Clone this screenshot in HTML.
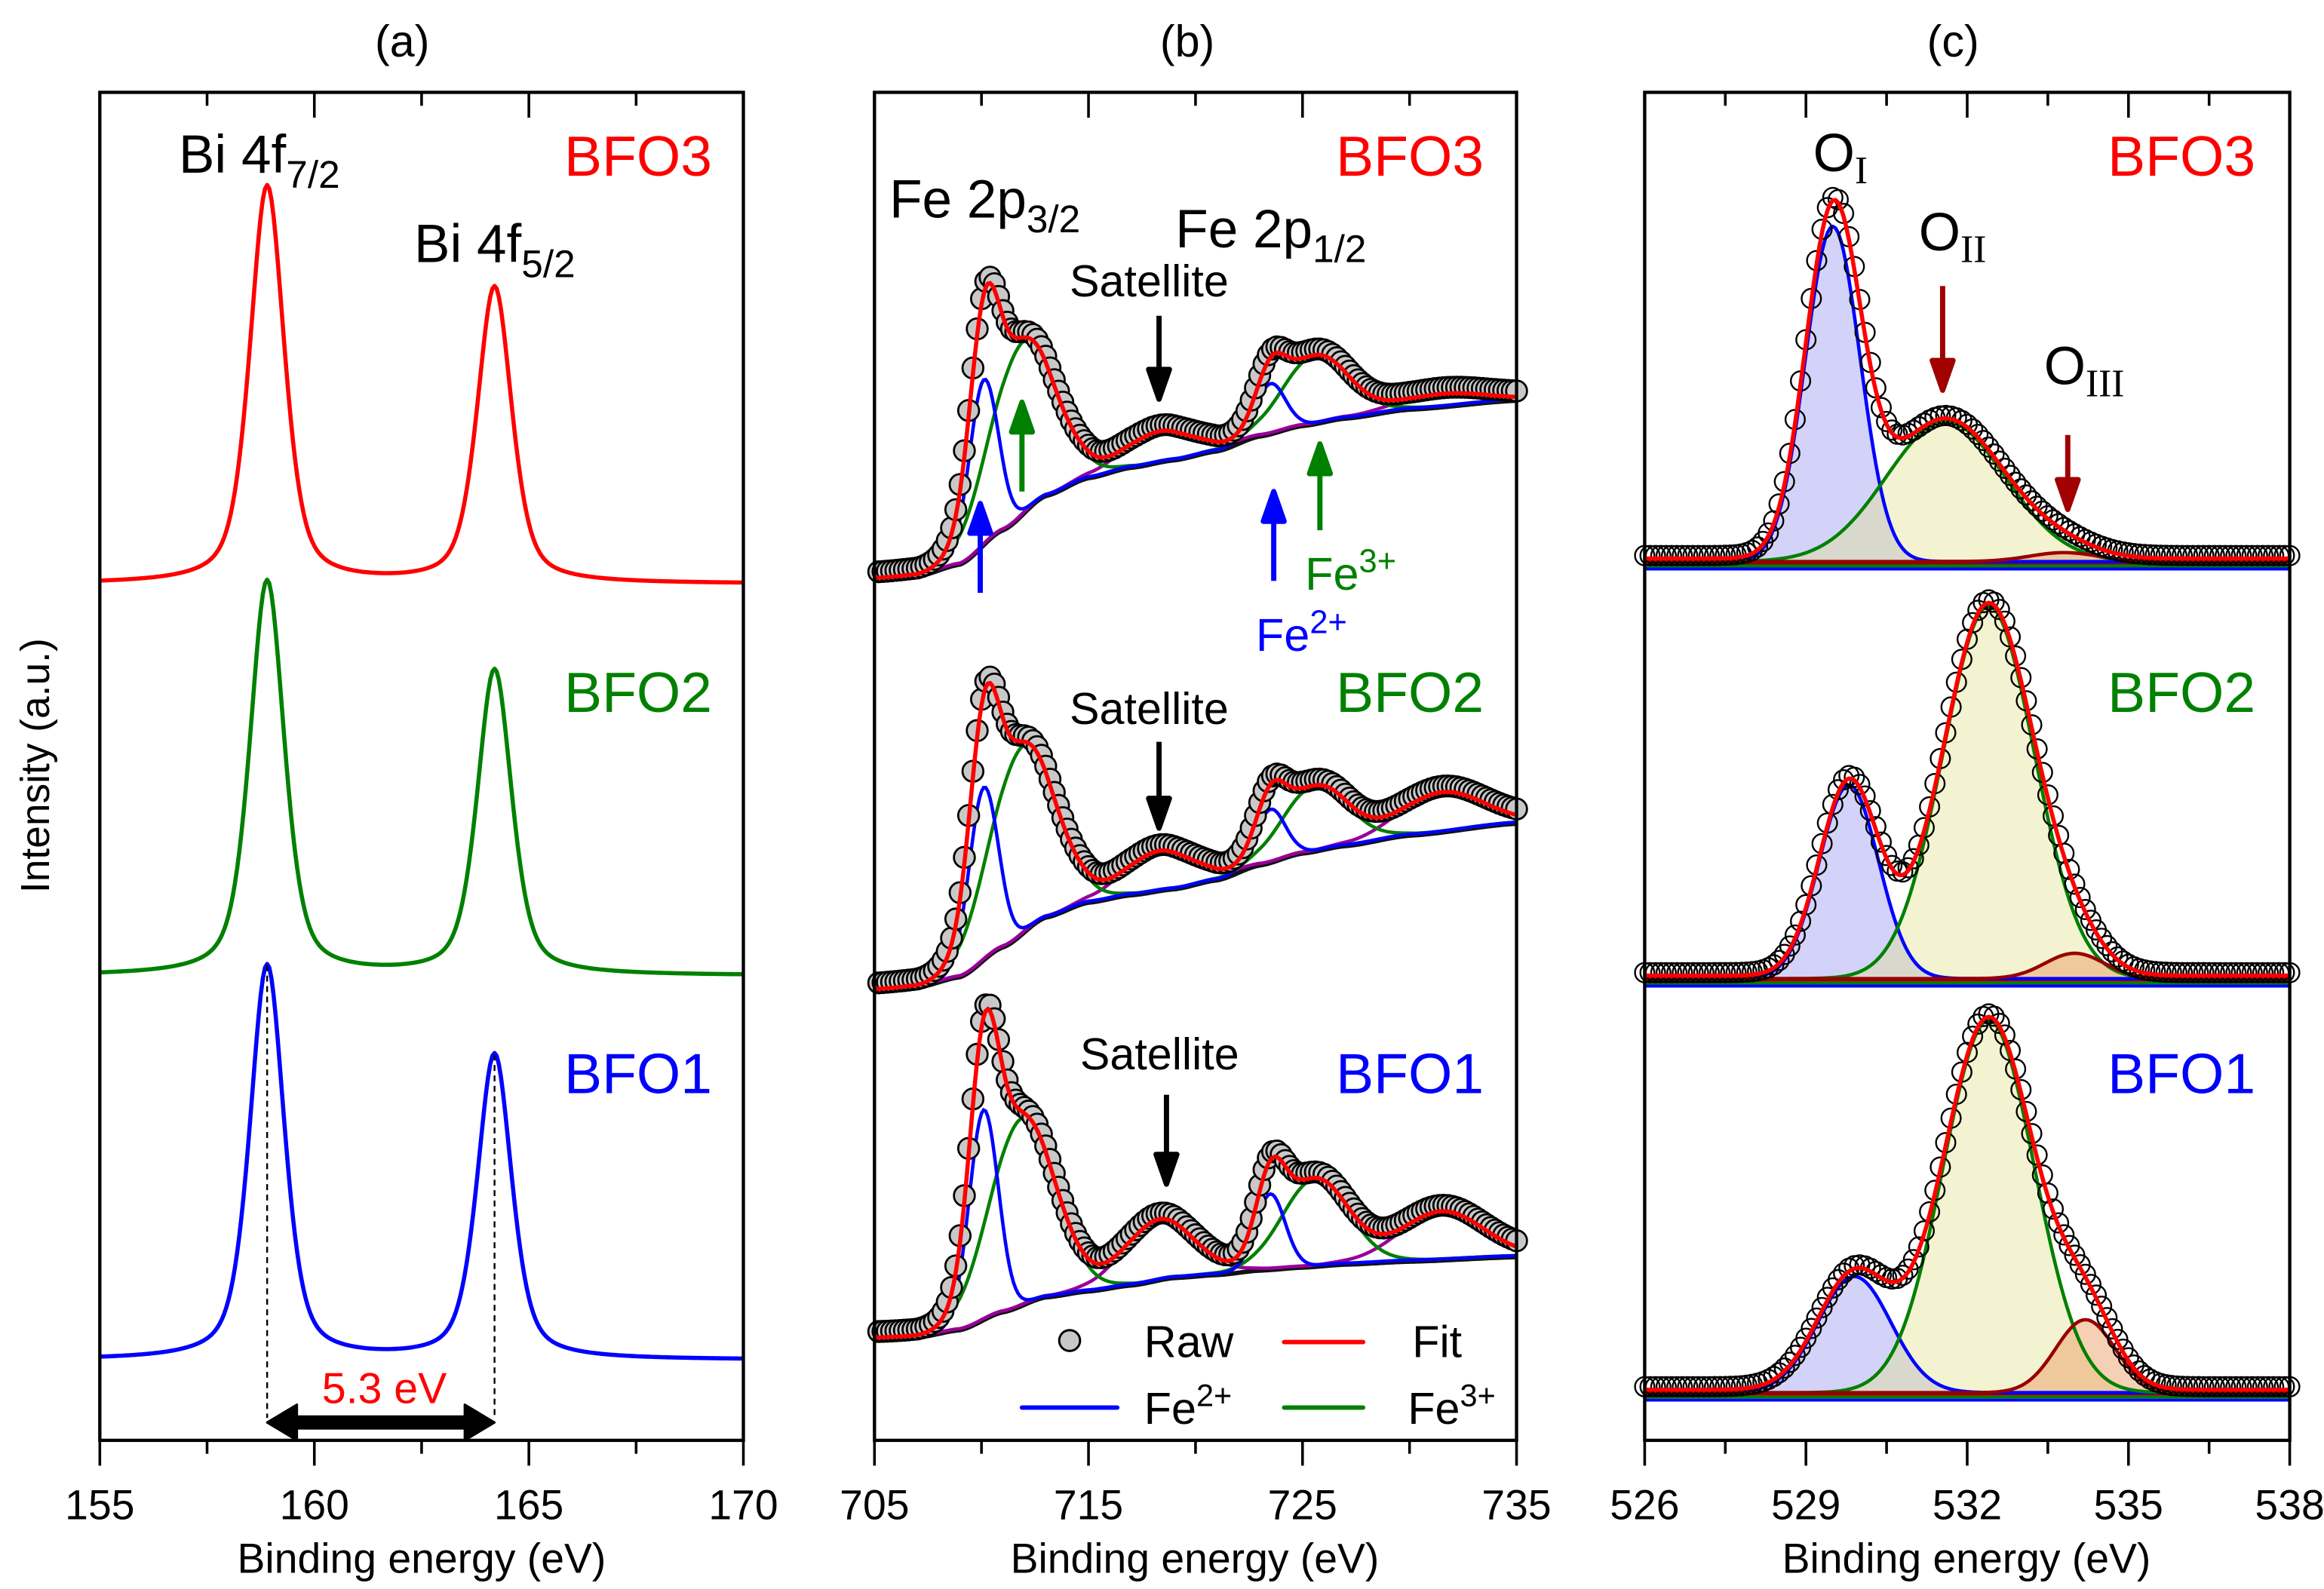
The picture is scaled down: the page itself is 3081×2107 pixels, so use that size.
<!DOCTYPE html>
<html><head><meta charset="utf-8">
<style>
html,body{margin:0;padding:0;background:#fff;}
svg{display:block;font-family:"Liberation Sans",Arial,sans-serif;}
.sr{font-family:"Liberation Serif",serif;}
</style></head>
<body>
<svg id="fig" xmlns="http://www.w3.org/2000/svg" width="3081" height="2107" viewBox="0 0 1560 1066.8" preserveAspectRatio="none">
<g id="marks"></g>
<g id="frames"></g>
<text x="270" y="38" font-size="30" text-anchor="middle">(a)</text>
<text x="797" y="38" font-size="30" text-anchor="middle">(b)</text>
<text x="1311" y="38" font-size="30" text-anchor="middle">(c)</text>
<text transform="translate(33,514) rotate(-90)" font-size="27" text-anchor="middle">Intensity (a.u.)</text>
<text x="283" y="1056" font-size="28" text-anchor="middle">Binding energy (eV)</text>
<text x="802" y="1056" font-size="28" text-anchor="middle">Binding energy (eV)</text>
<text x="1320" y="1056" font-size="28" text-anchor="middle">Binding energy (eV)</text>
<text x="120" y="116" font-size="36">Bi 4f<tspan font-size="26" dy="10">7/2</tspan></text>
<text x="278" y="176" font-size="36">Bi 4f<tspan font-size="26" dy="10">5/2</tspan></text>
<text x="478" y="118" font-size="38" fill="#ff0000" text-anchor="end">BFO3</text>
<text x="478" y="478" font-size="38" fill="#008000" text-anchor="end">BFO2</text>
<text x="478" y="734" font-size="38" fill="#0000ff" text-anchor="end">BFO1</text>
<text x="258" y="942" font-size="29" fill="#ff0000" text-anchor="middle">5.3 eV</text>
<text x="597" y="146" font-size="36">Fe 2p<tspan font-size="26" dy="10">3/2</tspan></text>
<text x="789" y="166" font-size="36">Fe 2p<tspan font-size="26" dy="10">1/2</tspan></text>
<text x="996" y="118" font-size="38" fill="#ff0000" text-anchor="end">BFO3</text>
<text x="996" y="478" font-size="38" fill="#008000" text-anchor="end">BFO2</text>
<text x="996" y="734" font-size="38" fill="#0000ff" text-anchor="end">BFO1</text>
<text x="718" y="199" font-size="30">Satellite</text>
<text x="718" y="486" font-size="30">Satellite</text>
<text x="725" y="718" font-size="30">Satellite</text>
<text x="876" y="396" font-size="31" fill="#008000">Fe<tspan font-size="22" dy="-12">3+</tspan></text>
<text x="843" y="437" font-size="31" fill="#0000ff">Fe<tspan font-size="22" dy="-12">2+</tspan></text>
<g>
<circle cx="718" cy="900" r="7" fill="#c8c8c8" stroke="#000" stroke-width="1.5"/>
<text x="768" y="911" font-size="30">Raw</text>
<line x1="862" y1="901" x2="915" y2="901" stroke="#ff0000" stroke-width="3" stroke-linecap="round"/>
<text x="948" y="911" font-size="30">Fit</text>
<line x1="686" y1="945" x2="750" y2="945" stroke="#0000ff" stroke-width="3" stroke-linecap="round"/>
<text x="768" y="956" font-size="30">Fe<tspan font-size="21" dy="-12">2+</tspan></text>
<line x1="862" y1="945" x2="915" y2="945" stroke="#008000" stroke-width="3" stroke-linecap="round"/>
<text x="945" y="956" font-size="30">Fe<tspan font-size="21" dy="-12">3+</tspan></text>
</g>
<text x="1217" y="115" font-size="36">O<tspan class="sr" font-size="26" dy="8">I</tspan></text>
<text x="1288" y="168" font-size="36">O<tspan class="sr" font-size="26" dy="8">II</tspan></text>
<text x="1372" y="258" font-size="36">O<tspan class="sr" font-size="26" dy="8">III</tspan></text>
<text x="1514" y="118" font-size="38" fill="#ff0000" text-anchor="end">BFO3</text>
<text x="1514" y="478" font-size="38" fill="#008000" text-anchor="end">BFO2</text>
<text x="1514" y="734" font-size="38" fill="#0000ff" text-anchor="end">BFO1</text>
</svg>
<script>
// ---------- data ----------
const biPos = [158.9, 164.2];
const biW = [0.95, 0.95];
const biH_BFO3 = [267, 199];
const biH_BFO2 = [265, 205];
const biH_BFO1 = [265, 205];
const biBase = [575, 312, 54];
const aTicks = [155, 160, 165, 170];
const bgE = [705, 707, 709, 711, 713, 715, 717, 719, 721, 723, 725, 727, 730, 735];
const bg3 = [579, 581, 589, 612, 635, 647, 654, 659, 665, 675, 682, 687, 693, 699];
const bg2 = [303, 305, 312, 332, 352, 362, 367, 371, 377, 387, 395, 400, 407, 415];
const bg1 = [69, 70, 75, 87, 97, 101, 105, 110, 112, 115, 117, 119, 121, 124];
const fePos = [710.1, 711.9, 718.3, 723.5, 725.6, 731.5];
const feW = [1.6, 3.6, 3.8, 1.6, 3.6, 4.5];
const feH3 = [110, 115, 20, 33, 45, 8];
const feH2 = [115, 125, 26, 35, 43, 26];
const feH1 = [140, 125, 40, 50, 58, 32];
const bTicks = [705, 715, 725, 735];
const oI_pos = [529.5, 529.8, 529.9];
const oI_h = [225, 130, 78];
const oI_w = [1.2, 1.3, 1.6];
const oII_pos = [531.6, 532.4, 532.4];
const oII_h = [94, 250, 250];
const oII_w = [2.6, 2.0, 2.0];
const oIII_pos = [533.8, 534.0, 534.2];
const oIII_h = [6, 17, 49];
const oIII_w = [1.5, 1.3, 1.3];
const cTicks = [526, 529, 532, 535, 538];

// ---------- helpers ----------
const NS = "http://www.w3.org/2000/svg";
const marks = document.getElementById('marks');
const frames = document.getElementById('frames');
function mk(tag, attrs, parent) {
  const e = document.createElementNS(NS, tag);
  for (const k in attrs) e.setAttribute(k, attrs[k]);
  (parent || marks).appendChild(e);
  return e;
}
const TOP = 62, BOT = 967;
function xA(e) { return 67 + (e - 155) / 15 * 432; }
function xB(e) { return 587 + (e - 705) / 30 * 431; }
function xC(e) { return 1104 + (e - 526) / 12 * 433; }
function yI(i) { return BOT - i; }
function gauss(e, p, h, w) { return h * Math.exp(-4 * Math.LN2 * ((e - p) / w) ** 2); }
function lor(e, p, h, w) { return h / (1 + 4 * ((e - p) / w) ** 2); }
function interp(xs, ys, x) {
  if (x <= xs[0]) return ys[0];
  for (let i = 1; i < xs.length; i++) {
    if (x <= xs[i]) {
      const t = (x - xs[i - 1]) / (xs[i] - xs[i - 1]);
      const s = t * t * (3 - 2 * t);
      return ys[i - 1] + (ys[i] - ys[i - 1]) * (0.5 * t + 0.5 * s);
    }
  }
  return ys[ys.length - 1];
}
function pathD(pts) { return pts.map((p, i) => (i ? 'L' : 'M') + p[0].toFixed(2) + ' ' + p[1].toFixed(2)).join(''); }
function range(a, b, s) { const r = []; for (let v = a; v <= b + 1e-9; v += s) r.push(+v.toFixed(4)); return r; }

// ---------- panel a ----------
const aColors = ['#ff0000', '#008000', '#0000ff'];
const aH = [biH_BFO3, biH_BFO2, biH_BFO1];
const aNames = ['bfo3', 'bfo2', 'bfo1'];
const eA = range(155, 170, 0.05);
for (let s = 0; s < 3; s++) {
  const pts = eA.map(e => {
    let v = biBase[s];
    for (let k = 0; k < biPos.length; k++) v += 0.5 * gauss(e, biPos[k], aH[s][k], biW[k]) + 0.5 * lor(e, biPos[k], aH[s][k], biW[k]);
    return [xA(e), yI(v)];
  });
  const p = mk('path', { d: pathD(pts), fill: 'none', stroke: aColors[s], 'stroke-width': 2.8, 'stroke-linejoin': 'round' });
  
  
}
for (let k = 0; k < biPos.length; k++) {
  const l = mk('line', { x1: xA(biPos[k]), x2: xA(biPos[k]), y1: yI(biBase[2] + biH_BFO1[k]), y2: 952, stroke: '#000', 'stroke-width': 1.2, 'stroke-dasharray': '4 3' });
  
  
}
{
  const x1 = xA(biPos[0]), x2 = xA(biPos[1]), y = 955;
  const g = mk('path', { d: `M${x1} ${y}L${x1 + 20} ${y - 12}L${x1 + 20} ${y - 4}L${x2 - 20} ${y - 4}L${x2 - 20} ${y - 12}L${x2} ${y}L${x2 - 20} ${y + 12}L${x2 - 20} ${y + 4}L${x1 + 20} ${y + 4}L${x1 + 20} ${y + 12}Z`, fill: '#000', stroke: '#000', 'stroke-width': 1.5, 'stroke-linejoin': 'round' });
  
  
}

// ---------- panel b ----------
const bgs = [bg3, bg2, bg1];
const feHs = [feH3, feH2, feH1];
const eB = range(705, 735, 0.1);
const compCol = ['#0000ff', '#008000', '#990099'];
const compName = ['fe2plus', 'fe3plus', 'satellite'];
for (let s = 0; s < 3; s++) {
  const bgf = e => interp(bgE, bgs[s], e);
  const comp = (e, k) => gauss(e, fePos[k], feHs[s][k], feW[k]);
  const bgp = mk('path', { d: pathD(eB.map(e => [xB(e), yI(bgf(e)) + 1])), fill: 'none', stroke: '#111', 'stroke-width': 3 });
  
  
  for (let t = 2; t >= 0; t--) {
    const pts = eB.map(e => [xB(e), yI(bgf(e) + comp(e, t) + comp(e, t + 3))]);
    const p = mk('path', { d: pathD(pts), fill: 'none', stroke: compCol[t], 'stroke-width': 2.3 });
    
    
  }
  const fitf = e => { let v = bgf(e); for (let k = 0; k < fePos.length; k++) v += comp(e, k); return v; };
  const gr = mk('g', {});
  
  
  range(705.2, 735, 0.2).forEach(e => {
    const c = mk('circle', { cx: xB(e), cy: yI(fitf(e) + 4), r: 7, fill: '#c8c8c8', stroke: '#000', 'stroke-width': 1.4 }, gr);
    
    
  });
  const fp = mk('path', { d: pathD(eB.map(e => [xB(e), yI(fitf(e))])), fill: 'none', stroke: '#ff0000', 'stroke-width': 2.8 });
  
  
}
function arrow(x, y1, y2, col, name) {
  const dir = y2 > y1 ? 1 : -1;
  const hy = y2 - dir * 20;
  const g = mk('path', { d: `M${x} ${y1}L${x} ${hy}M${x - 7} ${hy}L${x + 7} ${hy}L${x} ${y2}Z`, fill: col, stroke: col, 'stroke-width': 3.5, 'stroke-linejoin': 'round' });
  
  
}
arrow(778, 212, 268, '#000', 'satellite-arrow-bfo3');
arrow(778, 498, 556, '#000', 'satellite-arrow-bfo2');
arrow(783, 735, 795, '#000', 'satellite-arrow-bfo1');
arrow(658, 398, 338, '#0000ff', 'fe2-arrow-1');
arrow(855, 390, 330, '#0000ff', 'fe2-arrow-2');
arrow(686, 330, 270, '#008000', 'fe3-arrow-1');
arrow(886, 356, 298, '#008000', 'fe3-arrow-2');

// ---------- panel c ----------
const cBase = [377, 657, 935];
const eC = range(526, 538, 0.05);
for (let s = 0; s < 3; s++) {
  const b = cBase[s];
  const f1 = e => gauss(e, oI_pos[s], oI_h[s], oI_w[s]);
  const f2 = e => gauss(e, oII_pos[s], oII_h[s], oII_w[s]);
  const f3 = e => gauss(e, oIII_pos[s], oIII_h[s], oIII_w[s]);
  const comps = [[f1, 'rgba(80,80,230,0.25)', '#0000ff', 'oi'], [f2, 'rgba(225,225,140,0.4)', '#008000', 'oii'], [f3, 'rgba(235,150,90,0.45)', '#990000', 'oiii']];
  comps.forEach(c => {
    const pts = eC.map(e => [xC(e), b - c[0](e)]);
    const a = mk('path', { d: pathD(pts) + `L${xC(538)} ${b}L${xC(526)} ${b}Z`, fill: c[1], stroke: 'none' });
    
    
  });
  [['#0000ff', 5], ['#008000', 3], ['#990000', 1]].forEach(bl => {
    const l = mk('line', { x1: 1104, x2: 1537, y1: b + bl[1], y2: b + bl[1], stroke: bl[0], 'stroke-width': 2 });
    
    
  });
  comps.forEach(c => {
    const p = mk('path', { d: pathD(eC.map(e => [xC(e), b - c[0](e)])), fill: 'none', stroke: c[2], 'stroke-width': 2.3 });
    
    
  });
  const fitf = e => f1(e) + f2(e) + f3(e);
  const gr = mk('g', {});
  
  
  range(526, 538, 0.1).forEach(e => {
    const c = mk('circle', { cx: xC(e), cy: b - fitf(e) - 4, r: 6.5, fill: 'none', stroke: '#000', 'stroke-width': 1.2 }, gr);
    
    
  });
  const fp = mk('path', { d: pathD(eC.map(e => [xC(e), b - 2 - fitf(e)])), fill: 'none', stroke: '#ff0000', 'stroke-width': 2.8 });
  
  
}
arrow(1304, 192, 262, '#a00000', 'oii-arrow');
arrow(1388, 292, 342, '#a00000', 'oiii-arrow');

// ---------- frames, ticks, labels ----------
function frame(x0, x1, ticks, minor, xf, name) {
  const r = mk('rect', { x: x0, y: TOP, width: x1 - x0, height: BOT - TOP, fill: 'none', stroke: '#000', 'stroke-width': 2.2 }, frames);
  
  
  ticks.forEach(t => {
    const x = xf(t);
    mk('line', { x1: x, x2: x, y1: BOT, y2: BOT + 17, stroke: '#000', 'stroke-width': 1.8 }, frames);
    mk('line', { x1: x, x2: x, y1: TOP, y2: TOP + 17, stroke: '#000', 'stroke-width': 1.8 }, frames);
    const tx = mk('text', { x: x, y: BOT + 53, 'font-size': 28, 'text-anchor': 'middle' }, frames);
    tx.textContent = t;
    
    
  });
  minor.forEach(t => {
    const x = xf(t);
    mk('line', { x1: x, x2: x, y1: BOT, y2: BOT + 9, stroke: '#000', 'stroke-width': 1.8 }, frames);
    mk('line', { x1: x, x2: x, y1: TOP, y2: TOP + 9, stroke: '#000', 'stroke-width': 1.8 }, frames);
  });
}
frame(67, 499, aTicks, [157.5, 162.5, 167.5], xA, 'panel-a');
frame(587, 1018, bTicks, [710, 720, 730], xB, 'panel-b');
frame(1104, 1537, cTicks, [527.5, 530.5, 533.5, 536.5], xC, 'panel-c');
</script>
</body></html>
